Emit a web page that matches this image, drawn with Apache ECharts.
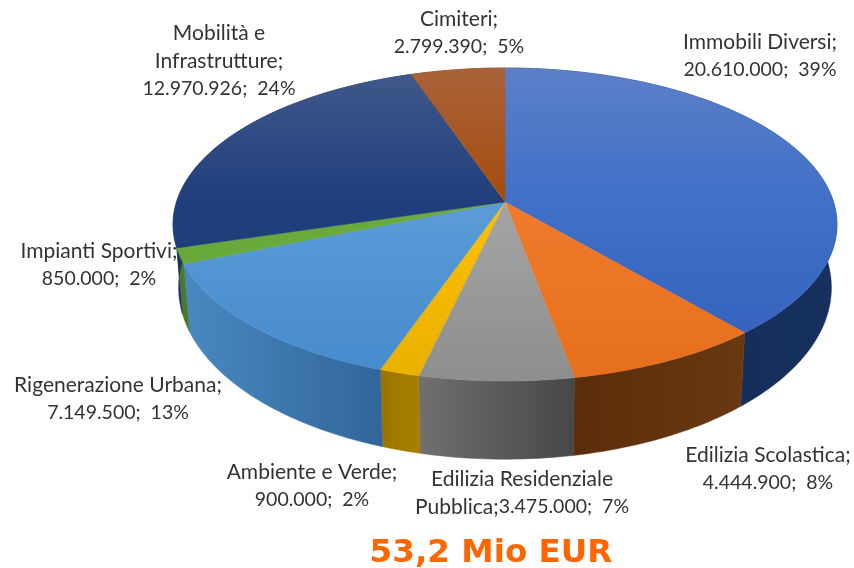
<!DOCTYPE html>
<html>
<head>
<meta charset="utf-8">
<script src="https://cdn.jsdelivr.net/npm/echarts@6/dist/echarts.min.js"></script>
<style>html,body{margin:0;padding:0;background:#fff}#c{width:854px;height:568px}</style>
</head>
<body>
<div id="c"></div>
<script>
// Data
const names = ['Immobili Diversi;', 'Edilizia Scolastica;', 'Edilizia Residenziale\nPubblica;', 'Ambiente e Verde;', 'Rigenerazione Urbana;', 'Impianti Sportivi;', 'Mobilità e\nInfrastrutture;', 'Cimiteri;'];
const values = [20610000, 4444900, 3475000, 900000, 7149500, 850000, 12970926, 2799390];
const totalLabel = '53,2 Mio EUR';

// Styles
const topStops = [
  ['#5c7fc8', '#4070c8', '#3360ba'],
  ['#f4915a', '#f07b2c', '#e56f1c'],
  ['#b0b0b0', '#a5a5a5', '#8e8e8e'],
  ['#ffc820', '#ffc000', '#e8b000'],
  ['#70a8dc', '#5b9bd8', '#458bcb'],
  ['#76b24c', '#6cab3e', '#5fa232'],
  ['#42598b', '#1f3f7c', '#1b3a72'],
  ['#a9623a', '#a64c0c', '#a34603']
];
const wallStops = [
  ['#14294f', '#16305f'],
  ['#5a2c0a', '#693a10'],
  ['#707070', '#474747'],
  ['#9a7400', '#a88000'],
  ['#4a88c2', '#31669a'],
  ['#4a7a2e', '#4a7a2e'],
  ['#1a3566', '#1a3566'],
  ['#6b3a10', '#6b3a10']
];
const labelLayout = [[760, 56], [768, 469], [522, 493], [312, 486], [118, 399], [99, 265], [219, 61], [459, 33]];

// Projection of the disc
const cx = 505, k = 0.1438;
const topFace = { y: 202, a: 153.3, b: 328.5 };
const baseFace = { y: 263, a: 168, b: 323 };
const sum = values.reduce((p, v) => p + v, 0);
function project(face, deg) {
  const r = deg * Math.PI / 180, c = Math.sin(r), s = Math.cos(r), w = 1 + k * s;
  return [cx + face.b * c / w, face.y - face.a * s / w];
}
function arc(face, from, to) {
  const pts = [], n = Math.max(2, Math.ceil(to - from));
  for (let i = 0; i <= n; i++) pts.push(project(face, from + (to - from) * i / n));
  return pts;
}
function span(i) {
  let before = 0;
  for (let j = 0; j < i; j++) before += values[j];
  return [before / sum * 360, (before + values[i]) / sum * 360];
}
function fmt(v) { return String(v).replace(/\B(?=(\d{3})+$)/g, '.'); }
function pct(v) { return Math.round(v / sum * 100) + '%'; }

function renderWall(params, api) {
  const i = params.dataIndex, sp = span(i);
  const a = arc(topFace, sp[0], sp[1]), b = arc(baseFace, sp[0], sp[1]).reverse();
  const xs = a.concat(b).map(p => p[0]);
  const x0 = Math.min.apply(null, xs), x1 = Math.max.apply(null, xs);
  const g = new echarts.graphic.LinearGradient(x0, 0, x1, 0, [
    { offset: 0, color: wallStops[i][0] }, { offset: 1, color: wallStops[i][1] }
  ], true);
  return { type: 'polygon', shape: { points: a.concat(b) }, style: { fill: g, stroke: g, lineWidth: 0.5 } };
}
function renderTop(params, api) {
  const i = params.dataIndex, sp = span(i);
  const pts = [[cx, topFace.y]].concat(arc(topFace, sp[0], sp[1]));
  const g = new echarts.graphic.LinearGradient(0, 68, 0, 381, [
    { offset: 0, color: topStops[i][0] },
    { offset: 0.42, color: topStops[i][1] },
    { offset: 1, color: topStops[i][2] }
  ], true);
  return { type: 'polygon', shape: { points: pts }, style: { fill: g, stroke: g, lineWidth: 0.5 } };
}

function labelText(i) {
  const head = names[i].split('\n').map(l => '{n|' + l + '}').join('\n');
  const sep = names[i].indexOf('Pubblica') >= 0 ? '' : '\n';
  return head + sep + '{v|' + fmt(values[i]) + ';  ' + pct(values[i]) + '}';
}
const seriesData = values.map((v, i) => ({ name: names[i], value: v }));
const chart = echarts.init(document.getElementById('c'), null, { renderer: 'canvas' });
chart.setOption({
  animation: false,
  backgroundColor: '#fff',
  title: {
    text: totalLabel, left: 486, top: 532, textAlign: 'center',
    textStyle: { fontFamily: 'DejaVu Sans', fontWeight: 'bold', fontSize: 32.6, color: '#ff6600' }
  },
  series: [
    { type: 'custom', coordinateSystem: 'none', silent: true, z: 1, renderItem: renderWall, data: seriesData },
    { type: 'custom', coordinateSystem: 'none', silent: true, z: 2, renderItem: renderTop, data: seriesData }
  ],
  graphic: values.map((v, i) => ({
    type: 'text', z: 10, silent: true,
    x: labelLayout[i][0], y: labelLayout[i][1],
    style: {
      text: labelText(i),
      align: 'center', verticalAlign: 'middle',
      rich: {
        n: { fontFamily: 'Lato', fontSize: 21, lineHeight: 27.5, fill: '#333333', color: '#333333' },
        v: { fontFamily: 'Lato', fontSize: 19.5, lineHeight: 27.5, fill: '#333333', color: '#333333' }
      }
    }
  }))
});
</script>
</body>
</html>
